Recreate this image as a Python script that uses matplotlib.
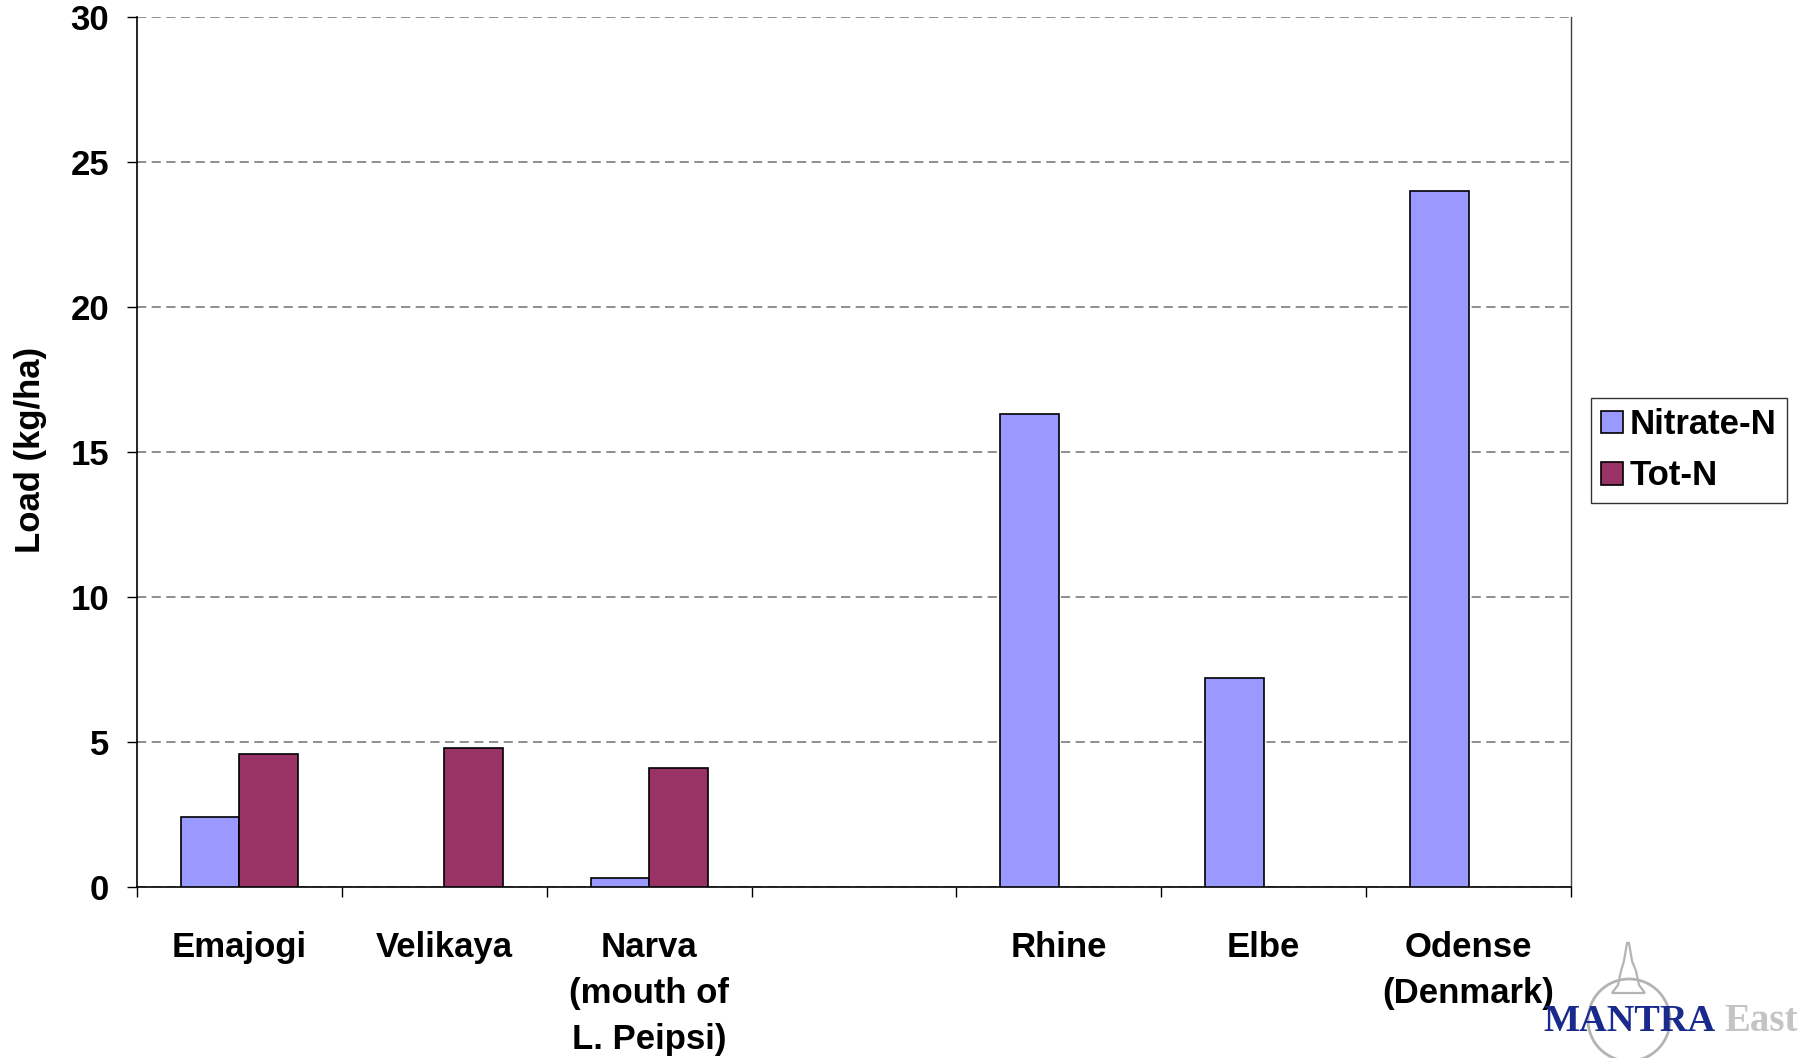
import numpy as np
import matplotlib
matplotlib.use("Agg")
import matplotlib.pyplot as plt
from matplotlib.patches import Circle, Polygon

# River nitrogen loads per hectare of catchment
rivers = ["Emajogi", "Velikaya", "Narva\n(mouth of\nL. Peipsi)", "",
          "Rhine", "Elbe", "Odense\n(Denmark)"]
nitrate_n = [2.4, np.nan, 0.3, np.nan, 16.3, 7.2, 24.0]
tot_n = [4.6, 4.8, 4.1, np.nan, np.nan, np.nan, np.nan]
series_names = ["Nitrate-N", "Tot-N"]
y_ticks = [0, 5, 10, 15, 20, 25, 30]

W, H = 1806, 1058
FS = 25
fig = plt.figure(figsize=(W / 100, H / 100), dpi=100)
fig.patch.set_facecolor("white")

plt.rcParams["font.family"] = ["Liberation Sans", "DejaVu Sans"]
plt.rcParams["font.weight"] = "bold"

ax = fig.add_axes([137 / W, 1 - 887 / H, 1434 / W, 870 / H])

x = np.arange(len(rivers))
bw = 0.286
ax.bar(x - bw / 2, nitrate_n, width=bw, color="#9999FF", edgecolor="black",
       linewidth=1.2, label=series_names[0], zorder=3)
ax.bar(x + bw / 2, tot_n, width=bw, color="#993366", edgecolor="black",
       linewidth=1.2, label=series_names[1], zorder=3)

ax.set_xlim(-0.5, len(rivers) - 0.5)
ax.set_ylim(0, 30)
ax.set_yticks(y_ticks)
ax.set_yticklabels([str(v) for v in y_ticks], fontsize=FS, fontweight="bold")
ax.tick_params(axis="y", direction="out", length=7, width=1, pad=13)

ax.set_xticks(x)
ax.set_xticklabels(rivers, fontsize=FS, fontweight="bold", linespacing=1.5)
ax.tick_params(axis="x", which="major", length=0, pad=32)
ax.set_xticks(np.arange(-0.5, len(rivers)), minor=True)
ax.tick_params(axis="x", which="minor", direction="out", length=7, width=1)

ax.yaxis.grid(True, linestyle=(0, (6, 3.6)), color="#707070", linewidth=1.1, zorder=0)
ax.set_axisbelow(True)

ax.spines["top"].set_visible(False)
for s in ("left", "bottom"):
    ax.spines[s].set_color("black")
    ax.spines[s].set_linewidth(1.2)
ax.spines["right"].set_color("#404040")
ax.spines["right"].set_linewidth(1.0)

ax.set_ylabel("Load (kg/ha)", fontsize=FS, fontweight="bold", va="center")
ax.yaxis.set_label_coords(-0.0745, 0.502)

leg = ax.legend(loc="upper left", bbox_to_anchor=(1591 / W, 1 - 398 / H),
                bbox_transform=fig.transFigure, fontsize=FS, frameon=True,
                fancybox=False, shadow=False, handlelength=0.62,
                handleheight=0.62, handletextpad=0.2, labelspacing=0.52,
                borderpad=0.3, borderaxespad=0)
leg.get_frame().set_edgecolor("black")
leg.get_frame().set_linewidth(1.0)
for t in leg.get_texts():
    t.set_fontweight("bold")

# Logo in the lower right corner, drawn in pixel coordinates
lg = fig.add_axes([0, 0, 1, 1], zorder=5)
lg.set_xlim(0, W)
lg.set_ylim(H, 0)
lg.axis("off")
lg.patch.set_alpha(0)
lg.add_patch(Circle((1629, 1020), 41, fill=False, edgecolor="#b4b4b4", linewidth=2))
lg.add_patch(Polygon([(1627, 943), (1629, 943), (1632, 961), (1636, 971),
                      (1639, 985), (1645, 993), (1612, 993), (1618, 985),
                      (1621, 971), (1624, 961)],
                     closed=True, fill=False, edgecolor="#b4b4b4", linewidth=1.6))
lg.text(1543, 1031, "MANTRA", fontsize=27.5, fontweight="bold", color="#1a2a8c",
        family=["Liberation Serif", "DejaVu Serif"], ha="left", va="baseline")
lg.text(1724, 1031, "East", fontsize=28, color="#c4c4c4",
        family=["Liberation Serif", "DejaVu Serif"], ha="left", va="baseline")

fig.savefig("out.png", dpi=100, facecolor="white")
